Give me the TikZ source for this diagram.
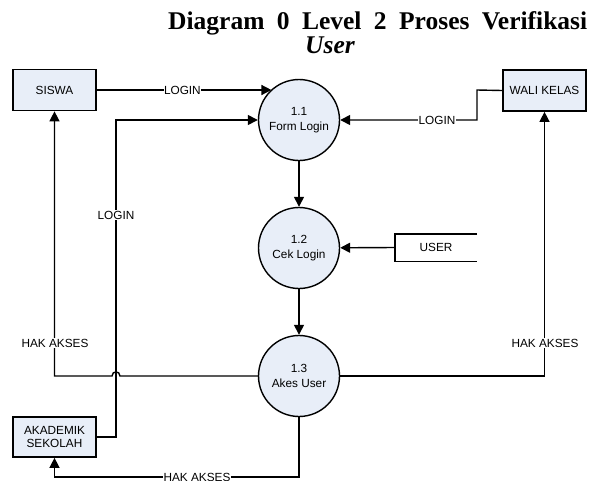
\documentclass[tikz,border=0pt]{standalone}
\usepackage{fontspec}
\setmainfont{Liberation Serif}
\setsansfont{Liberation Sans}
\usetikzlibrary{arrows.meta}
\definecolor{boxfill}{HTML}{E8EEF8}
\tikzset{
  entity/.style={draw, line width=1.7pt, fill=boxfill, minimum width=83pt,
    minimum height=41pt, inner sep=0pt, align=center,
    font=\sffamily\fontsize{11.8}{13.5}\selectfont},
  process/.style={circle, draw, line width=1.4pt, fill=boxfill,
    minimum size=81pt, inner sep=0pt, align=center,
    font=\sffamily\fontsize{11.8}{14.5}\selectfont},
  flow/.style={line width=1.4pt, -{Triangle[length=10pt,width=10pt]}},
  line/.style={line width=1.4pt},
  lbl/.style={fill=white, inner sep=0.5pt, font=\sffamily\fontsize{11.8}{13}\selectfont},
}
\begin{document}
\begin{tikzpicture}[x=1pt,y=-1pt]
\useasboundingbox (0,0) rectangle (604,480);

% title, two lines
\node[anchor=base west, inner sep=0pt, font=\bfseries\fontsize{25.5}{29}\selectfont]
  (title1) at (168,29.5) {\hbox to 419pt{Diagram\hfill 0\hfill Level\hfill 2\hfill Proses\hfill Verifikasi}};
\node[anchor=base west, inner sep=0pt, font=\bfseries\itshape\fontsize{25.5}{29}\selectfont]
  (title2) at (305,53) {User};

% external entities
\node[entity] (siswa) at (54.5,90) {SISWA};
\node[entity] (wali)  at (544.5,90.5) {WALI KELAS};
\node[entity, minimum height=40pt] (akad) at (54.5,437) {AKADEMIK\\SEKOLAH};

% processes
\node[process] (p1) at (299,120) {1.1\\Form Login};
\node[process] (p2) at (299,248) {1.2\\Cek Login};
\node[process] (p3) at (299,376) {1.3\\Akes User};

% data store (open on the right)
\node[minimum width=82pt, minimum height=27pt, inner sep=0pt,
  font=\sffamily\fontsize{11.8}{13}\selectfont] (store) at (436,247.5) {USER};
\draw[line] (store.north east) -- (store.north west) -- (store.south west) -- (store.south east);

% bend points
\coordinate (akadup) at (116,120);
\coordinate (walibend) at (477,90);
\coordinate (jumpR) at (120,376);
\coordinate (jumpL) at (112,376);
\coordinate (siswacorner) at (54.5,376);
\coordinate (bottomR) at (299,477);

% login flows
\draw[flow] (siswa.east) -- (siswa.east -| p1.132)
  node[lbl, pos=0.49] (lsiswa) {LOGIN};
\draw[flow] (akad.east) -| (akadup) -- (p1);
\node[lbl] (lakad) at (116,215) {LOGIN};
\draw[flow] (wali.west) -- (walibend) |- (p1.east);
\node[lbl] (lwali) at (437,120) {LOGIN};

% internal flows
\draw[flow] (p1) -- (p2);
\draw[flow] (p2) -- (p3);
\draw[flow] (store.west) -- (p2);

% access rights back to the entities (with a jump over the login line)
\draw[flow] (p3.west) -- (jumpR) .. controls (120,370.5) and (112,370.5) .. (jumpL)
  -- (siswacorner) -- (siswa.south);
\node[lbl] (lhak1) at (55,343) {HAK AKSES};
\draw[flow] (p3.east) -| (wali.south);
\node[lbl] (lhak2) at (545,343) {HAK AKSES};
\draw[flow] (p3.south) -- (bottomR) -| (akad.south);
\node[lbl] (lhak3) at (197,477) {HAK AKSES};
\end{tikzpicture}
\end{document}
